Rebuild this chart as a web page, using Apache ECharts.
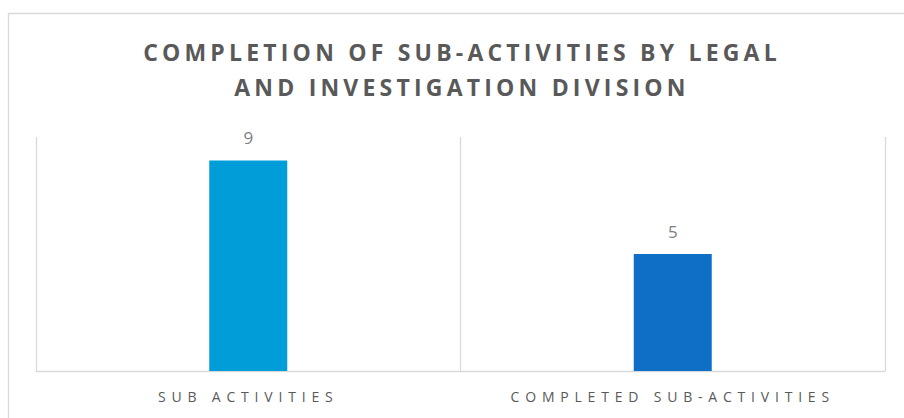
<!DOCTYPE html>
<html>
<head>
<meta charset="utf-8">
<script src="https://cdn.jsdelivr.net/npm/echarts@6/dist/echarts.min.js"></script>
<style>
  html, body { margin: 0; padding: 0; background: #fff; }
  #chart { width: 904px; height: 418px; }
  /* spaced-out lettering like the office chart style */
  #chart text[style*="23px"] { letter-spacing: 4.2px; }
  #chart text[style*="14px"] { letter-spacing: 5.8px; }
</style>
</head>
<body>
<div id="chart"></div>
<script>
const categories = ['SUB ACTIVITIES', 'COMPLETED SUB-ACTIVITIES']
const counts = [9, 5]
const barColors = ['#009DD9', '#0F6FC6']

const chart = echarts.init(document.getElementById('chart'), null, { renderer: 'svg' })

chart.setOption({
  animation: false,
  title: {
    text: 'COMPLETION OF SUB-ACTIVITIES BY LEGAL\nAND INVESTIGATION DIVISION',
    left: 457,
    textAlign: 'center',
    top: 29,
    textStyle: {
      fontFamily: 'Open Sans',
      fontSize: 23,
      fontWeight: 'bold',
      color: '#595959',
      lineHeight: 35
    }
  },
  graphic: [{
    type: 'rect',
    left: 6,
    top: 11,
    shape: { width: 930, height: 440 },
    style: { fill: 'none', stroke: '#d9d9d9', lineWidth: 1.3 },
    silent: true
  }],
  grid: {
    left: 36,
    right: 19,
    top: 137,
    bottom: 47
  },
  xAxis: {
    type: 'category',
    data: categories,
    axisLine: { lineStyle: { color: '#d9d9d9', width: 1.3 } },
    axisTick: { show: false },
    splitLine: { show: true, lineStyle: { color: '#d9d9d9', width: 1.3 } },
    axisLabel: {
      fontFamily: 'Open Sans',
      fontSize: 14,
      color: '#595959',
      margin: 18
    }
  },
  yAxis: {
    type: 'value',
    min: 0,
    max: 10,
    show: false
  },
  series: [{
    type: 'bar',
    barWidth: 78,
    data: counts.map((v, i) => ({ value: v, itemStyle: { color: barColors[i] } })),
    label: {
      show: true,
      position: 'top',
      distance: 14,
      fontFamily: 'Open Sans',
      fontSize: 17,
      color: '#7f7f7f'
    }
  }]
})
</script>
</body>
</html>
